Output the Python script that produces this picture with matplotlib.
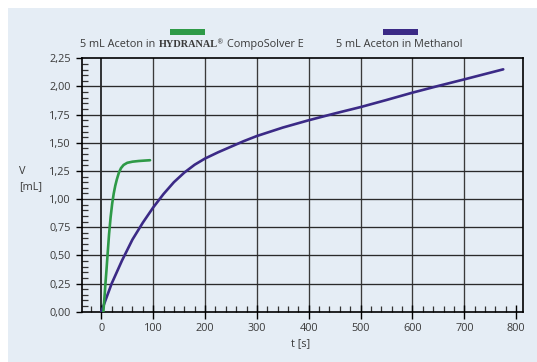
import matplotlib
matplotlib.use("Agg")
import matplotlib.pyplot as plt
from matplotlib.patches import Rectangle
from matplotlib.ticker import MultipleLocator, FixedLocator

# data
green_t = [4, 6, 8, 10, 12, 15, 18, 21, 24, 27, 30, 34, 38, 43, 50, 60, 72, 84, 94]
green_v = [0.0, 0.12, 0.25, 0.37, 0.50, 0.69, 0.84, 0.96, 1.05, 1.12, 1.175, 1.235, 1.275, 1.303, 1.322,
           1.332, 1.338, 1.342, 1.345]
purple_t = [0, 20, 40, 60, 80, 100, 120, 140, 160, 180, 200, 225, 250, 275, 300, 350, 400, 450, 500,
            550, 600, 650, 700, 775]
purple_v = [0.0, 0.25, 0.455, 0.64, 0.79, 0.925, 1.045, 1.15, 1.235, 1.305, 1.36, 1.415, 1.465, 1.515,
            1.56, 1.635, 1.70, 1.76, 1.817, 1.88, 1.945, 2.005, 2.063, 2.152]
x_ticks = [0, 100, 200, 300, 400, 500, 600, 700, 800]
y_ticks = [0.0, 0.25, 0.5, 0.75, 1.0, 1.25, 1.5, 1.75, 2.0, 2.25]
label_green = ["5 mL Aceton in", "HYDRANAL", "®", "CompoSolver E"]
label_methanol = "5 mL Aceton in Methanol"

bg = '#e5edf5'
txt = '#3a3a3a'
green = '#2e9a47'
purple = '#3b2a86'
fs = 7.8
plt.rcParams['font.family'] = ['Open Sans', 'DejaVu Sans']

fig = plt.figure(figsize=(5.37, 3.62), dpi=100)
fig.patches.append(Rectangle((8 / 537, 0), 1, 354 / 362, transform=fig.transFigure,
                             facecolor=bg, edgecolor='none', zorder=-10))
ax = fig.add_axes([82 / 537, 1 - 311.7 / 362, (523.3 - 82) / 537, (311.7 - 58.3) / 362])
ax.set_facecolor(bg)
ax.set_xlim(-37.2, 813.7)
ax.set_ylim(0, 2.25)

# grid lines (none at 800, the right border sits at ~815)
for xv in x_ticks[:-1]:
    ax.axvline(xv, color='black' if xv == 0 else '#3a3a3a', lw=1.1 if xv == 0 else 0.95, zorder=1)
for yv in y_ticks[1:-1]:
    ax.axhline(yv, color='#2a2a2a', lw=0.95, zorder=1)

ax.plot(purple_t, purple_v, color=purple, lw=1.9, zorder=3, solid_capstyle='round', solid_joinstyle='round')
ax.plot(green_t, green_v, color=green, lw=1.9, zorder=3, solid_capstyle='round', solid_joinstyle='round')

for s in ax.spines.values():
    s.set_color('black')
    s.set_linewidth(1.2)

ax.xaxis.set_major_locator(FixedLocator(x_ticks))
ax.yaxis.set_major_locator(FixedLocator(y_ticks))
ax.xaxis.set_minor_locator(MultipleLocator(20))
ax.yaxis.set_minor_locator(MultipleLocator(0.05))
ax.set_xticklabels([str(v) for v in x_ticks])
ax.set_yticklabels([('%.2f' % v).replace('.', ',') for v in y_ticks])
ax.tick_params(axis='x', which='major', direction='inout', length=10, width=1.0, color='black',
               labelsize=fs, labelcolor=txt, pad=3)
ax.tick_params(axis='y', which='major', direction='out', length=4, width=1.0, color='black',
               labelsize=fs, labelcolor=txt, pad=4)
ax.tick_params(which='minor', direction='in', length=4, width=0.9, color='#333333')

fig.text(19 / 537, 1 - 171.7 / 362, "V", fontsize=fs, color=txt, ha='left', va='center')
fig.text(19 / 537, 1 - 186.7 / 362, "[mL]", fontsize=fs, color=txt, ha='left', va='center')
fig.text(301 / 537, 1 - 344 / 362, "t [s]", fontsize=fs, color=txt, ha='center', va='center')

# legend: swatches above labels
fig.patches.append(Rectangle((170 / 537, 1 - 34.7 / 362), 35 / 537, 5.5 / 362, transform=fig.transFigure,
                             facecolor=green, edgecolor='none'))
fig.patches.append(Rectangle((383 / 537, 1 - 34.7 / 362), 35 / 537, 5.5 / 362, transform=fig.transFigure,
                             facecolor=purple, edgecolor='none'))

renderer = fig.canvas.get_renderer()
ty = 1 - 44.5 / 362
styles = [dict(fontsize=fs),
          dict(fontsize=7.4, fontweight='bold', family=['Liberation Serif']),
          dict(fontsize=4.8, family=['DejaVu Sans']),
          dict(fontsize=fs)]
shifts = [0, 0, 2.5, 0]
gaps = [3.5, -1.5, 3.5, 0]
xpx = 80
for s, kw, sh, gap in zip(label_green, styles, shifts, gaps):
    t = fig.text(xpx / 537, ty + sh / 362, s, color=txt, ha='left', va='center', **kw)
    xpx += t.get_window_extent(renderer).width + gap
fig.text(336 / 537, ty, label_methanol, fontsize=fs, color=txt, ha='left', va='center')

fig.savefig("out.png", dpi=100, facecolor='white')
